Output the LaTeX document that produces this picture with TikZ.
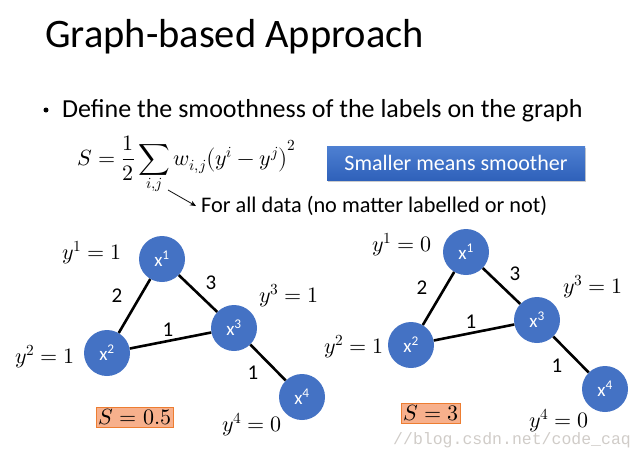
\documentclass[tikz,border=0pt]{standalone}
\usepackage{amsmath}
\usepackage{fontspec}
\usepackage{unicode-math}
\setmainfont{Carlito}
\setmonofont{Liberation Mono}
\setmathfont{Latin Modern Math}
\usetikzlibrary{shadows,arrows.meta}
\definecolor{nodeblue}{HTML}{4472C4}
\definecolor{boxtop}{HTML}{4E80D2}
\definecolor{boxbot}{HTML}{2F61BA}
\definecolor{sfill}{HTML}{F7B08C}
\definecolor{sdraw}{HTML}{ED7D31}
\definecolor{wmark}{HTML}{D0CCC8}
\tikzset{
  gnode/.style={circle, fill=nodeblue, minimum size=46pt, inner sep=0pt, text=white, font=\fontsize{19}{22}\selectfont},
  gedge/.style={line width=2.6pt, black},
  wlabel/.style={font=\fontsize{21}{24}\selectfont},
  ylabel/.style={font=\fontsize{22}{26}\selectfont},
  sbox/.style={draw=sdraw, line width=1pt, fill=sfill, inner sep=2pt, font=\fontsize{22}{26}\selectfont},
}
\begin{document}
\begin{tikzpicture}[x=1pt,y=-1pt]
\useasboundingbox (0,0) rectangle (644,458);
\node[anchor=base west, inner sep=0pt, font=\fontsize{40.5}{44}\selectfont] (title) at (45,47) {Graph-based Approach};
\node[anchor=base west, inner sep=0pt, font=\fontsize{26}{30}\selectfont] (bullet) at (62,117) {Define the smoothness of the labels on the graph};
\node[circle, fill=black, inner sep=0pt, minimum size=5pt] (dot) at (46,110) {};
\node[anchor=west, inner sep=0pt, font=\fontsize{22}{26}\selectfont] (formula) at (77,165) {$\displaystyle S=\frac{1}{2}\sum_{i,j} w_{i,j}\bigl(y^i-y^j\bigr)^2$};
\node[minimum width=258pt, minimum height=34pt, top color=boxtop, bottom color=boxbot, text=white, font=\fontsize{22}{26}\selectfont, drop shadow={shadow xshift=1pt, shadow yshift=-2pt, opacity=0.4}] (smooth) at (456,163) {Smaller means smoother};
\coordinate (arrs) at (168,190);
\coordinate (arre) at (196,206);
\draw[-{Stealth[length=6pt,width=5pt]}, line width=0.8pt] (arrs) -- (arre);
\node[anchor=base west, inner sep=0pt, font=\fontsize{22.3}{26}\selectfont] (forall) at (201,212) {For all data (no matter labelled or not)};

% left graph
\node[gnode] (a1) at (162,259) {x\textsuperscript{1}};
\node[gnode] (a2) at (107,353) {x\textsuperscript{2}};
\node[gnode] (a3) at (234,328) {x\textsuperscript{3}};
\node[gnode] (a4) at (302,397) {x\textsuperscript{4}};
\draw[gedge] (a1) -- (a2);
\draw[gedge] (a1) -- (a3);
\draw[gedge] (a2) -- (a3);
\draw[gedge] (a3) -- (a4);
\node[wlabel] (aw12) at (117,296) {2};
\node[wlabel] (aw13) at (211,283) {3};
\node[wlabel] (aw23) at (168,330) {1};
\node[wlabel] (aw34) at (253,373) {1};
\node[ylabel] (ay1) at (92,253) {$y^1=1$};
\node[ylabel] (ay2) at (45,357) {$y^2=1$};
\node[ylabel] (ay3) at (289,296) {$y^3=1$};
\node[ylabel] (ay4) at (252,425) {$y^4=0$};
\node[sbox] (as) at (135,417) {$S=0.5$};

% right graph
\node[gnode] (b1) at (466,252) {x\textsuperscript{1}};
\node[gnode] (b2) at (411,345) {x\textsuperscript{2}};
\node[gnode] (b3) at (537,320) {x\textsuperscript{3}};
\node[gnode] (b4) at (605,389) {x\textsuperscript{4}};
\draw[gedge] (b1) -- (b2);
\draw[gedge] (b1) -- (b3);
\draw[gedge] (b2) -- (b3);
\draw[gedge] (b3) -- (b4);
\node[wlabel] (bw12) at (422,288) {2};
\node[wlabel] (bw13) at (515,274) {3};
\node[wlabel] (bw23) at (471,322) {1};
\node[wlabel] (bw34) at (557,366) {1};
\node[ylabel] (by1) at (402,245) {$y^1=0$};
\node[ylabel] (by2) at (354,347) {$y^2=1$};
\node[ylabel] (by3) at (593,287) {$y^3=1$};
\node[ylabel] (by4) at (559,421) {$y^4=0$};
\node[sbox] (bs) at (431,413) {$S=3$};

\node[anchor=base west, inner sep=0pt, text=wmark, font=\ttfamily\fontsize{16.5}{20}\selectfont] (wm) at (393,444) {//blog.csdn.net/code\_caq};
\end{tikzpicture}
\end{document}
